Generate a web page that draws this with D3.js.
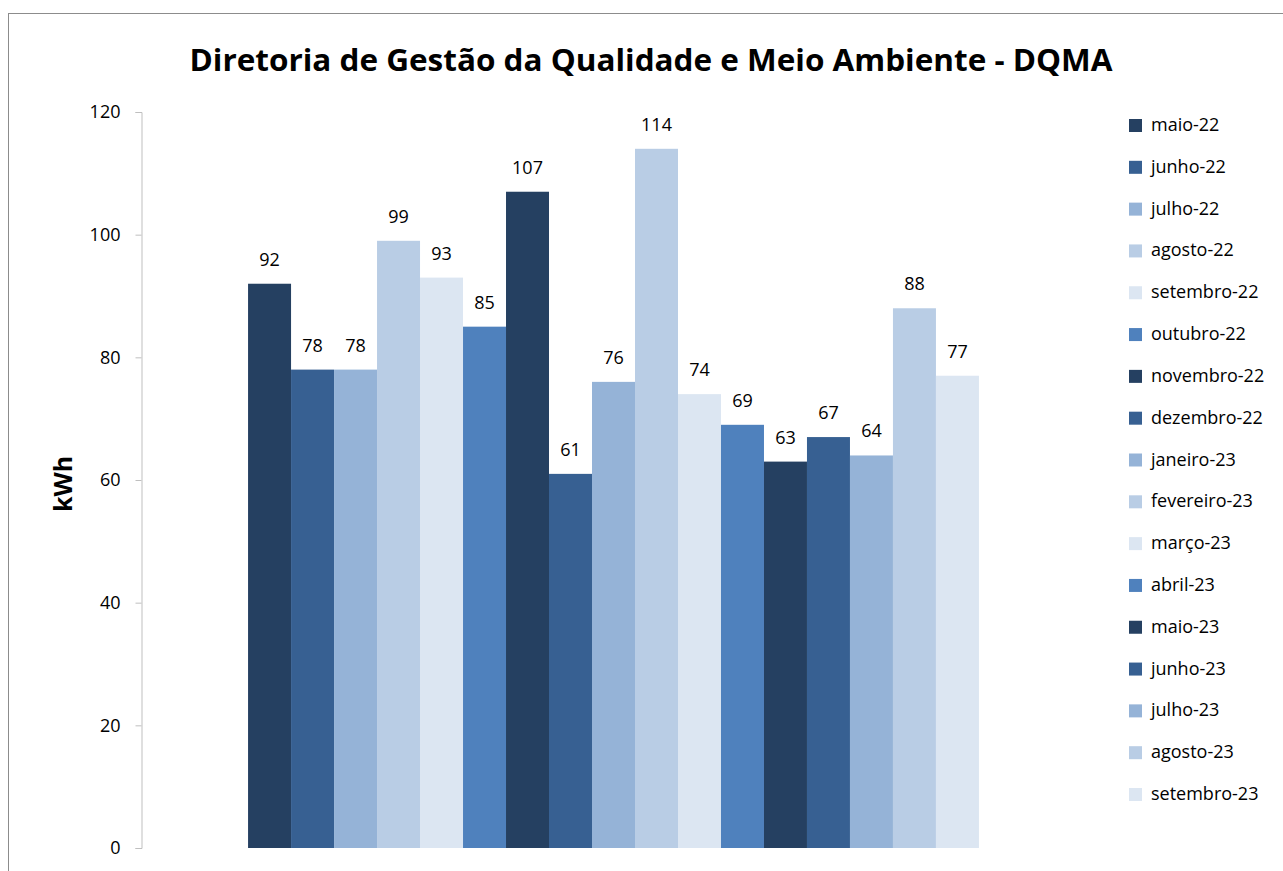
<!DOCTYPE html>
<head>
	<meta charset="utf-8">
	<script src="https://d3js.org/d3.v7.min.js"></script>
	<style>
		body { margin: 0; background: #fff; }
		text { font-family: "Open Sans", "Noto Sans", sans-serif; fill: #000; }
	</style>
</head>
<body>
	<script type="text/javascript">

		var w = 1283;
		var h = 871;

		var months = ["maio-22", "junho-22", "julho-22", "agosto-22", "setembro-22", "outubro-22",
			"novembro-22", "dezembro-22", "janeiro-23", "fevereiro-23", "março-23", "abril-23",
			"maio-23", "junho-23", "julho-23", "agosto-23", "setembro-23"];
		var values = [92, 78, 78, 99, 93, 85, 107, 61, 76, 114, 74, 69, 63, 67, 64, 88, 77];
		var palette = ["#254061", "#376092", "#95b3d7", "#b9cde5", "#dce6f2", "#4f81bd"];
		var yTicks = [0, 20, 40, 60, 80, 100, 120];

		var svg = d3.select("body")
			.append("svg")
			.attr("width", w)
			.attr("height", h);

		// chart frame
		svg.append("rect")
			.attr("x", 8.5)
			.attr("y", 13.5)
			.attr("width", w + 20)
			.attr("height", h + 20)
			.attr("fill", "none")
			.attr("stroke", "#8c8c8c")
			.attr("stroke-width", 1);

		svg.append("text")
			.attr("x", 651)
			.attr("y", 71)
			.attr("text-anchor", "middle")
			.attr("font-size", 31)
			.attr("font-weight", "bold")
			.attr("textLength", 923)
			.attr("lengthAdjust", "spacingAndGlyphs")
			.text("Diretoria de Gestão da Qualidade e Meio Ambiente - DQMA");

		var plotLeft = 141, plotRight = 1086;

		var yScale = d3.scaleLinear()
			.domain([0, 120])
			.range([848, 112]);

		var xScale = d3.scaleBand()
			.domain(months)
			.range([plotLeft, plotRight])
			.paddingInner(0)
			.paddingOuter(2.49);

		var colour = d3.scaleOrdinal()
			.domain(months)
			.range(palette);

		// y axis
		var yAxis = d3.axisLeft(yScale)
			.tickValues(yTicks)
			.tickSize(6)
			.tickPadding(15);

		var gy = svg.append("g")
			.attr("transform", "translate(" + (plotLeft + 0.5) + ",0)")
			.call(yAxis);
		gy.select(".domain").attr("stroke", "#bfbfbf");
		gy.selectAll(".tick line").attr("stroke", "#bfbfbf");
		gy.selectAll(".tick text")
			.attr("font-size", 18)
			.attr("fill", "#000")
			.style("font-family", "'Open Sans', sans-serif");

		svg.append("text")
			.attr("transform", "translate(72,484) rotate(-90)")
			.attr("text-anchor", "middle")
			.attr("font-size", 25)
			.attr("font-weight", "bold")
			.text("kWh");

		// bars
		svg.selectAll("rect.bar")
			.data(values)
			.enter()
			.append("rect")
			.attr("class", "bar")
			.attr("x", function(d, i) { return xScale(months[i]); })
			.attr("y", function(d) { return yScale(d); })
			.attr("width", xScale.bandwidth())
			.attr("height", function(d) { return yScale(0) - yScale(d); })
			.attr("fill", function(d, i) { return colour(months[i]); });

		svg.selectAll("text.lbl")
			.data(values)
			.enter()
			.append("text")
			.attr("class", "lbl")
			.attr("x", function(d, i) { return xScale(months[i]) + xScale.bandwidth() / 2; })
			.attr("y", function(d) { return yScale(d) - 18; })
			.attr("text-anchor", "middle")
			.attr("font-size", 18)
			.text(function(d) { return d; });

		// legend
		var legendY = d3.scalePoint()
			.domain(months)
			.range([125, 794]);

		var lg = svg.selectAll("g.leg")
			.data(months)
			.enter()
			.append("g")
			.attr("class", "leg")
			.attr("transform", function(d) { return "translate(1129," + legendY(d) + ")"; });

		lg.append("rect")
			.attr("x", 0)
			.attr("y", -6)
			.attr("width", 13)
			.attr("height", 13)
			.attr("fill", function(d) { return colour(d); });

		lg.append("text")
			.attr("x", 22)
			.attr("y", 6)
			.attr("font-size", 18)
			.text(function(d) { return d; });

	</script>
</body>
